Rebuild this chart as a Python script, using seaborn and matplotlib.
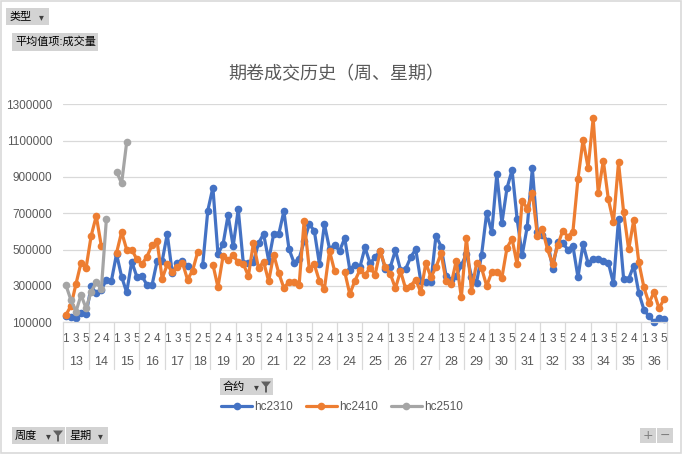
import numpy as np
import pandas as pd
import matplotlib
matplotlib.use("Agg")
import matplotlib.pyplot as plt
import matplotlib.transforms as mtransforms
from matplotlib.lines import Line2D
from matplotlib.patches import Rectangle, Polygon
import seaborn as sns

nan = np.nan

# === DATA ===
weeks = list(range(13, 37))
week_days = {18: [1, 2, 4, 5]}  # week 18 has only four trading days
contracts = ["hc2310", "hc2410", "hc2510"]

hc2310 = [135000, 131000, 122000, 153000, 146000,
          298000, 260000, 280000, 333000, 330000,
          476000, 351000, 265000, 434000, 351000,
          356000, 305000, 305000, 437000, 437000,
          586000, 370000, 425000, 437000, 410000,
          nan, nan, 418000, 715000,
          842000, 477000, 529000, 690000, 518000,
          722000, 425000, 428000, 433000, 535000,
          587000, 440000, 588000, 585000, 712000,
          505000, 428000, 450000, 545000, 640000,
          604000, 423000, 640000, 505000, 523000,
          494000, 563000, 390000, 418000, 404000,
          512000, 425000, 457000, 495000, 395000,
          404000, 497000, 388000, 393000, 457000,
          503000, 327000, 322000, 323000, 577000,
          517000, 354000, 335000, 356000, 414000,
          476000, 352000, 318000, 473000, 703000,
          596000, 916000, 646000, 838000, 938000,
          668000, 470000, 627000, 947000, 596000,
          580000, 550000, 395000, 544000, 537000,
          500000, 521000, 348000, 530000, 425000,
          448000, 449000, 440000, 427000, 314000,
          668000, 340000, 339000, 412000, 262000,
          170000, 133000, 102000, 124000, 118000]

hc2410 = [140000, 190000, 311000, 428000, 401000,
          577000, 685000, 520000, nan, nan,
          482000, 597000, 500000, 500000, 447000,
          419000, 462000, 524000, 545000, 340000,
          419000, 375000, 406000, 428000, 335000,
          385000, 486000, nan, nan,
          418000, 294000, 463000, 443000, 468000,
          430000, 422000, 355000, 537000, 398000,
          434000, 326000, 473000, 370000, 289000,
          323000, 320000, 303000, 660000, 396000,
          420000, 328000, 285000, 493000, 383000,
          nan, 378000, 255000, 328000, 388000,
          360000, 399000, 363000, 493000, 403000,
          366000, 287000, 382000, 287000, 300000,
          335000, 266000, 426000, 348000, 403000,
          480000, 325000, 310000, 440000, 237000,
          565000, 273000, 425000, 397000, 300000,
          376000, 375000, 346000, 510000, 560000,
          419000, 770000, 726000, 812000, 577000,
          611000, 501000, 421000, 523000, 605000,
          572000, 598000, 889000, 1104000, 950000,
          1223000, 811000, 990000, 776000, 652000,
          980000, 707000, 501000, 663000, 430000,
          293000, 206000, 265000, 176000, 230000]

hc2510 = [306000, 223000, 159000, 250000, 177000,
          269000, 320000, 282000, 669000, nan,
          929000, 865000, 1091000]

colors = {"hc2310": "#4472C4", "hc2410": "#ED7D31", "hc2510": "#A5A5A5"}
GREY_TXT = "#595959"
GRID = "#D9D9D9"
W, H = 682, 454

# === CATEGORIES (week, weekday) ===
cat_week, cat_day = [], []
for w in weeks:
    for d in week_days.get(w, [1, 2, 3, 4, 5]):
        cat_week.append(w)
        cat_day.append(d)
n_cat = len(cat_day)

# long table, one unit per unbroken run so blanks stay as gaps
rows = []
for name, vals in zip(contracts, [hc2310, hc2410, hc2510]):
    seg = 0
    for i, v in enumerate(vals):
        if np.isnan(v):
            seg += 1
            continue
        rows.append({"pos": i, "value": v, "contract": name, "unit": f"{name}_{seg}"})
df = pd.DataFrame(rows)

# === STYLE ===
sns.set_style("white")
plt.rcParams["font.family"] = ["Liberation Sans", "Noto Sans CJK SC", "DejaVu Sans"]


def fx(x):
    return x / W


def fy(y):
    return 1 - y / H


fig = plt.figure(figsize=(W / 100, H / 100), dpi=100)
ax = fig.add_axes([fx(63.3), fy(322.3), (666.7 - 63.3) / W, (322.3 - 104.3) / H])

sns.lineplot(data=df, x="pos", y="value", hue="contract", units="unit",
             estimator=None, palette=colors, hue_order=contracts,
             marker="o", markersize=5.5, markeredgewidth=0, linewidth=2.3,
             legend=False, ax=ax)
for ln in ax.lines:
    ln.set_clip_on(False)

ax.set_xlim(-0.5, n_cat - 0.5)
ax.set_ylim(100000, 1300000)
ax.set_yticks(range(100000, 1300001, 200000))
ax.yaxis.set_major_formatter(matplotlib.ticker.FuncFormatter(lambda v, p: f"{int(v)}"))
ax.grid(axis="y", color=GRID, lw=0.9)
ax.set_axisbelow(True)
for s in ["top", "right", "left"]:
    ax.spines[s].set_visible(False)
ax.spines["bottom"].set_color(GRID)
ax.spines["bottom"].set_linewidth(0.9)
ax.set_xlabel("")
ax.set_ylabel("")

ax.set_xticks(range(0, n_cat, 2))
ax.set_xticklabels([str(d) for d in cat_day[::2]])
ax.tick_params(axis="x", length=0, pad=8, labelsize=8.5, labelcolor=GREY_TXT)
ax.tick_params(axis="y", length=0, pad=8, labelsize=8.5, labelcolor=GREY_TXT)

# week labels and separators
trans = mtransforms.blended_transform_factory(ax.transData, ax.transAxes)
start = 0
bounds = [-0.5]
for w in weeks:
    cnt = len(week_days.get(w, [1, 2, 3, 4, 5]))
    ax.text(start + (cnt - 1) / 2, -0.183, str(w), transform=trans,
            ha="center", va="center", fontsize=9, color=GREY_TXT)
    start += cnt
    bounds.append(start - 0.5)
for b in bounds:
    ax.plot([b, b], [0, -0.215], transform=trans, color=GRID, lw=0.9, clip_on=False)

# title
fig.text(fx(336), fy(75), "期卷成交历史（周、星期）", ha="center", va="center",
         fontsize=13, color=GREY_TXT)


# pivot field buttons
def button(x0, y0, x1, y1, label, arrow=False, funnel=False):
    fig.patches.append(Rectangle((fx(x0), fy(y1)), (x1 - x0) / W, (y1 - y0) / H,
                                 transform=fig.transFigure, fc="#D3D3D3", ec="none"))
    fig.text(fx(x0 + 3), fy((y0 + y1) / 2), label, ha="left", va="center",
             fontsize=8, color="black")
    if arrow:
        ax_x = x1 - 8 if not funnel else x1 - 17
        fig.text(fx(ax_x), fy((y0 + y1) / 2 + 1), "▾", ha="center", va="center",
                 fontsize=7, color="#404040", family=["DejaVu Sans"])
    if funnel:
        cx, cy = x1 - 7, (y0 + y1) / 2
        pts = [(cx - 5, cy - 5), (cx + 5, cy - 5), (cx + 1, cy), (cx + 1, cy + 6),
               (cx - 1, cy + 6), (cx - 1, cy)]
        fig.patches.append(Polygon([(fx(a), fy(b)) for a, b in pts], closed=True,
                                   transform=fig.transFigure, fc="#606060", ec="none"))


button(6, 8, 49, 25, "类型", arrow=True)
button(12, 33, 98, 51, "平均值项:成交量")
button(220, 378, 273, 395, "合约", arrow=True, funnel=True)
button(12, 427, 65, 444, "周度", arrow=True, funnel=True)
button(66, 427, 108, 444, "星期", arrow=True)

# zoom buttons
for x0, sym in [(640, "+"), (657, "−")]:
    fig.patches.append(Rectangle((fx(x0), fy(443)), 16 / W, 15 / H,
                                 transform=fig.transFigure, fc="#D3D3D3", ec="none"))
    fig.text(fx(x0 + 8), fy(435.5), sym, ha="center", va="center", fontsize=9,
             color="#7F7F7F", family=["DejaVu Sans"])

# legend
handles = [Line2D([0], [0], color=colors[c], lw=2.3, marker="o", markersize=5.5,
                  markeredgewidth=0) for c in contracts]
fig.legend(handles, contracts, loc="center", bbox_to_anchor=(fx(342), fy(407)),
           ncol=3, frameon=False, fontsize=8.5, handlelength=2.6, handletextpad=0.2,
           columnspacing=1.1, labelcolor=GREY_TXT)

# outer frame
fig.patches.append(Rectangle((0.001, 0.002), 0.997, 0.996, transform=fig.transFigure,
                             fill=False, ec=GRID, lw=1.2))

fig.savefig("out.png", dpi=100)
